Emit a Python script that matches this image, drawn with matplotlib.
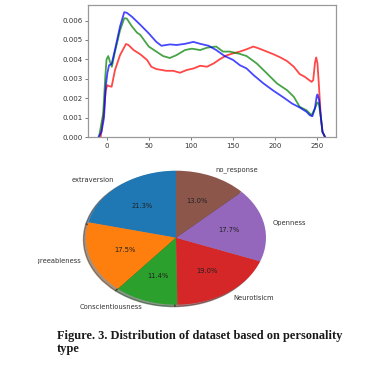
import matplotlib
matplotlib.use("Agg")
import matplotlib.pyplot as plt
from matplotlib.transforms import Bbox, TransformedBbox

# ---- KDE-like curves ----
blue_x = [-9.5, -6, -3, -1, 1, 3, 6, 10, 16, 21, 24, 30, 40, 50, 59, 65, 75, 83, 93, 103, 111, 121, 130, 140, 150, 158, 166, 174, 186, 198, 210, 220, 229, 237, 241, 244, 247, 249, 250, 252, 254, 256, 259]
blue_y = [0, 0.00026, 0.0010, 0.0026, 0.0033, 0.0037, 0.00376, 0.0045, 0.0057, 0.00643, 0.0064, 0.0062, 0.00578, 0.00534, 0.0049, 0.0047, 0.00477, 0.00474, 0.0048, 0.0049, 0.0048, 0.0047, 0.00448, 0.00417, 0.00397, 0.0037, 0.00353, 0.0032, 0.00276, 0.00238, 0.00203, 0.00172, 0.00152, 0.0013, 0.00112, 0.00107, 0.00147, 0.00207, 0.00219, 0.0019, 0.00103, 0.00026, 0]

green_x = [-9, -4, -1.5, 0, 2, 4, 6.3, 10, 16, 21, 24, 30, 36, 40, 50, 59, 67, 75, 83, 93, 101, 111, 119, 130, 138, 146, 158, 166, 178, 190, 202, 214, 222, 229, 237, 243, 247, 250, 251.6, 254, 256, 259]
green_y = [0, 0.0012, 0.0031, 0.0040, 0.00417, 0.00388, 0.00362, 0.0044, 0.0055, 0.00612, 0.0061, 0.0057, 0.00538, 0.00526, 0.00466, 0.0044, 0.00417, 0.00407, 0.00422, 0.00448, 0.00455, 0.00448, 0.0046, 0.00466, 0.0044, 0.0044, 0.00428, 0.00417, 0.00379, 0.00328, 0.00276, 0.00241, 0.00207, 0.00155, 0.00138, 0.00112, 0.00147, 0.00178, 0.00172, 0.00103, 0.00026, 0]

red_x = [-7, -3, -1, 1, 3, 6, 10, 16, 23, 26, 32, 40, 48, 53, 59, 71, 79, 87, 95, 103, 111, 119, 127, 134, 142, 150, 158, 166, 174, 180, 190, 198, 206, 214, 222, 229, 235, 243, 245, 247, 248.5, 250, 251.6, 254, 256, 259]
red_y = [0, 0.00138, 0.0024, 0.00267, 0.00262, 0.00259, 0.00345, 0.00422, 0.00479, 0.00474, 0.00448, 0.00426, 0.00397, 0.00362, 0.0035, 0.00341, 0.00341, 0.00331, 0.00345, 0.00353, 0.00367, 0.00362, 0.00379, 0.0040, 0.0042, 0.00431, 0.0044, 0.00452, 0.00466, 0.00457, 0.0044, 0.00426, 0.0041, 0.00391, 0.00362, 0.00324, 0.0031, 0.00284, 0.00293, 0.0038, 0.0041, 0.0038, 0.00276, 0.00103, 0.00026, 0]

x_ticks = [0, 50, 100, 150, 200, 250]
y_ticks = [0.000, 0.001, 0.002, 0.003, 0.004, 0.005, 0.006]

# ---- Pie data ----
pie_labels = ["extraversion", "Agreeableness", "Conscientiousness", "Neurotisicm", "Openness", "no_response"]
pie_values = [21.3, 17.5, 11.4, 19.0, 17.7, 13.0]

caption1 = "Figure. 3. Distribution of dataset based on personality"
caption2 = "type"

W, H = 377, 370
fig = plt.figure(figsize=(W / 100, H / 100), dpi=100)

# top axes
ax = fig.add_axes([88 / W, (H - 137) / H, (336 - 88) / W, (137 - 5) / H])
ax.plot(red_x, red_y, color="red", lw=1.3, alpha=0.72)
ax.plot(green_x, green_y, color="green", lw=1.3, alpha=0.72)
ax.plot(blue_x, blue_y, color="blue", lw=1.3, alpha=0.72)
ax.set_xlim(-22, 272)
ax.set_ylim(0, 0.0068)
ax.set_xticks(x_ticks)
ax.set_yticks(y_ticks)
ax.set_yticklabels(["%.3f" % v for v in y_ticks])
ax.tick_params(labelsize=5, colors="#666666", length=2, width=0.6, pad=2)
for lab in ax.get_xticklabels() + ax.get_yticklabels():
    lab.set_color("#333333")
for s in ax.spines.values():
    s.set_color("#999999")
    s.set_linewidth(0.9)

# pie axes
cx, cy, rx, ry = 176, 237.7, 90, 67
pax = fig.add_axes([(cx - rx) / W, (H - cy - ry) / H, 2 * rx / W, 2 * ry / H])
wedges, texts, autotexts = pax.pie(
    pie_values, labels=pie_labels, autopct="%1.1f%%", startangle=90,
    shadow=True, textprops={"fontsize": 4.9, "color": "#333333"})
for t in autotexts:
    t.set_color("#222222")
pax.set_aspect("auto")
pax.set_xlim(-1, 1)
pax.set_ylim(-1, 1)

# the reference is cropped on the left: clip labels at x ~ 38 px
clip = TransformedBbox(Bbox([[38 / W, 0], [1, 1]]), fig.transFigure)
for t in texts:
    t.set_clip_box(clip)
    t.set_clip_on(True)

fig.text(57 / W, 1 - 339 / H, caption1, family="Liberation Serif", weight="bold",
         fontsize=8.9, va="baseline", ha="left", color="#1a1a1a")
fig.text(57 / W, 1 - 352 / H, caption2, family="Liberation Serif", weight="bold",
         fontsize=8.9, va="baseline", ha="left", color="#1a1a1a")

fig.savefig("out.png", dpi=100)
